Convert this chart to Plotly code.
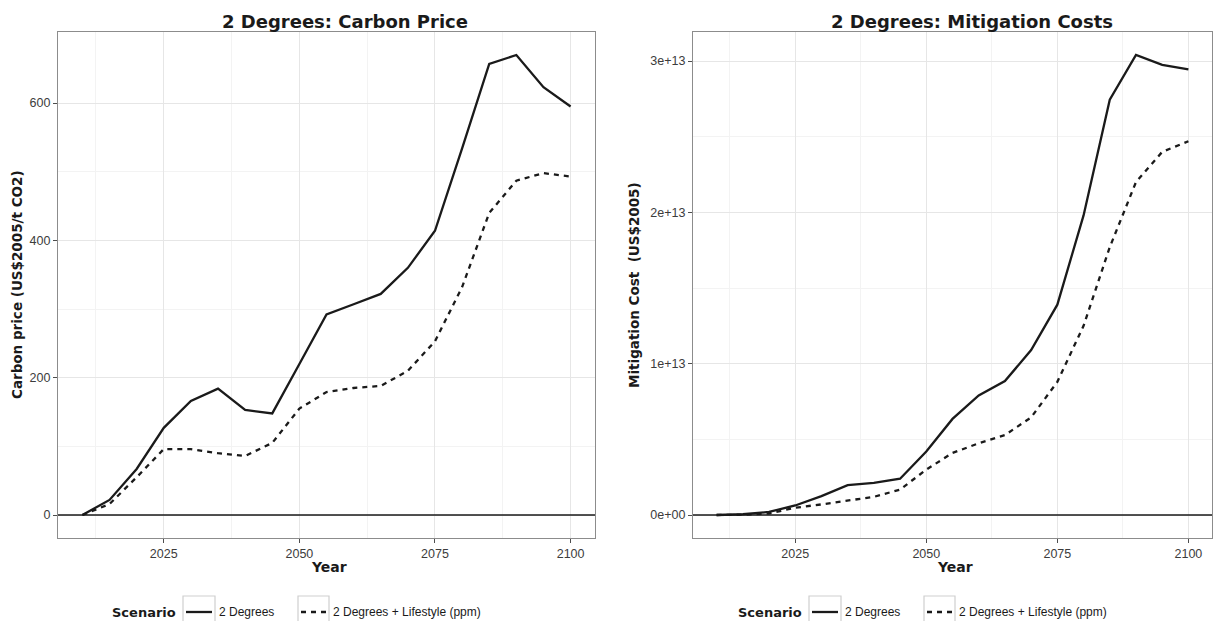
import plotly.graph_objects as go

# ---- data -------------------------------------------------------------
years = [2010, 2015, 2020, 2025, 2030, 2035, 2040, 2045, 2050, 2055,
         2060, 2065, 2070, 2075, 2080, 2085, 2090, 2095, 2100]

scenarios = ["2 Degrees", "2 Degrees + Lifestyle (ppm)"]

# carbon price, US$2005 per t CO2
price_2deg = [0, 22, 67, 127, 166, 184, 153, 148, 220, 292,
              307, 322, 360, 414, 534, 657, 670, 623, 595]
price_life = [0, 16, 55, 96, 96, 90, 86, 105, 155, 179,
              185, 188, 210, 253, 332, 440, 487, 498, 493]

# mitigation cost, US$2005
cost_2deg = [0.0, 0.005e13, 0.02e13, 0.063e13, 0.125e13, 0.197e13, 0.212e13,
             0.24e13, 0.42e13, 0.635e13, 0.79e13, 0.885e13, 1.09e13, 1.39e13,
             1.98e13, 2.745e13, 3.04e13, 2.975e13, 2.945e13]
cost_life = [0.0, 0.002e13, 0.01e13, 0.048e13, 0.07e13, 0.096e13, 0.12e13,
             0.168e13, 0.30e13, 0.41e13, 0.474e13, 0.528e13, 0.645e13,
             0.88e13, 1.25e13, 1.77e13, 2.20e13, 2.40e13, 2.47e13]

cost_ticks = [0, 1e13, 2e13, 3e13]
cost_tick_text = ["0e+00", "1e+13", "2e+13", "3e+13"]
price_ticks = [0, 200, 400, 600]
year_ticks = [2025, 2050, 2075, 2100]

# ---- styling ----------------------------------------------------------
W, H = 1219, 621
INK = "#1a1a1a"
TICK_TXT = "#3c3c3c"
BOLD_FONT = "DejaVu Sans"
TXT_FONT = "Liberation Sans"
dashes = ["solid", "5px,5px"]


def px_x(p):
    return p / W


def px_y(p):
    return 1 - p / H


fig = go.Figure()

panels = [("x", "y", [price_2deg, price_life]),
          ("x2", "y2", [cost_2deg, cost_life])]
for xa, ya, series in panels:
    for name, vals, dash in zip(scenarios, series, dashes):
        fig.add_trace(go.Scatter(
            x=years, y=vals, name=name, mode="lines",
            line=dict(color=INK, width=2.3, dash=dash),
            xaxis=xa, yaxis=ya, showlegend=False, hoverinfo="skip",
        ))

axis_common = dict(
    showline=True, mirror=True, linecolor="#8c8c8c", linewidth=1.2,
    ticks="outside", ticklen=4, tickcolor="#4d4d4d", tickwidth=1,
    showgrid=True, gridcolor="#e6e6e6", gridwidth=1,
    zeroline=False,
    tickfont=dict(family=TXT_FONT, size=12.5, color=TICK_TXT),
)

x_dom_1 = [px_x(58), px_x(595)]
x_dom_2 = [px_x(693), px_x(1212)]
y_dom = [px_y(538), px_y(32)]

xaxis_kw = dict(axis_common, range=[2005.5, 2104.5], tickmode="array",
                tickvals=year_ticks,
                minor=dict(showgrid=True, gridcolor="#f3f3f3",
                           tickvals=[2012.5, 2037.5, 2062.5, 2087.5],
                           ticks=""))

fig.update_layout(
    width=W, height=H,
    margin=dict(l=0, r=0, t=0, b=0),
    paper_bgcolor="white", plot_bgcolor="white",
    xaxis=dict(xaxis_kw, domain=x_dom_1, anchor="y"),
    xaxis2=dict(xaxis_kw, domain=x_dom_2, anchor="y2"),
    yaxis=dict(axis_common, domain=y_dom, anchor="x",
               range=[-33.5, 703.5], tickmode="array", tickvals=price_ticks,
               minor=dict(showgrid=True, gridcolor="#f3f3f3",
                          tickvals=[100, 300, 500], ticks="")),
    yaxis2=dict(axis_common, domain=y_dom, anchor="x2",
                range=[-0.152e13, 3.192e13], tickmode="array",
                tickvals=cost_ticks, ticktext=cost_tick_text,
                minor=dict(showgrid=True, gridcolor="#f3f3f3",
                           tickvals=[0.5e13, 1.5e13, 2.5e13], ticks="")),
    showlegend=False,
)

# horizontal reference line at zero in both panels
for xa, ya in [("x", "y"), ("x2", "y2")]:
    fig.add_shape(type="line", xref=f"{xa} domain", yref=ya,
                  x0=0, x1=1, y0=0, y1=0,
                  line=dict(color=INK, width=1.3), layer="above")


def add_text(text, x, y, size, family, angle=0, anchor="center"):
    fig.add_annotation(
        text=text, x=px_x(x), y=px_y(y), xref="paper", yref="paper",
        xanchor=anchor, yanchor="middle", showarrow=False,
        textangle=angle, borderpad=0,
        font=dict(family=family, size=size, color=INK),
    )


# titles
add_text("<b>2 Degrees: Carbon Price</b>", 345, 21, 18, BOLD_FONT)
add_text("<b>2 Degrees: Mitigation Costs</b>", 972, 21, 18, BOLD_FONT)
add_text("<b>Year</b>", 329, 567, 14, BOLD_FONT)
add_text("<b>Year</b>", 955, 567, 14, BOLD_FONT)
add_text("<b>Carbon price (US$2005/t CO2)</b>", 17, 285, 13.5, BOLD_FONT,
         angle=-90)
add_text("<b>Mitigation Cost\u00a0 (US$2005)</b>", 634, 285, 13.5, BOLD_FONT,
         angle=-90)

# legend below each panel: title, framed keys, labels
LEG_Y = 612
for off in (0, 626):
    add_text("<b>Scenario</b>", 111 + off, LEG_Y, 13, BOLD_FONT,
             anchor="left")
    keys = [(183 + off, 215 + off), (298 + off, 329 + off)]
    for (left, right), name, dash in zip(keys, scenarios, dashes):
        fig.add_shape(type="rect", xref="paper", yref="paper",
                      x0=px_x(left), x1=px_x(right),
                      y0=px_y(630), y1=px_y(596),
                      line=dict(color="#cfcfcf", width=1.2),
                      fillcolor="rgba(0,0,0,0)")
        fig.add_shape(type="line", xref="paper", yref="paper",
                      x0=px_x(left + 3), x1=px_x(right - 3),
                      y0=px_y(LEG_Y), y1=px_y(LEG_Y),
                      line=dict(color=INK, width=2.3, dash=dash))
        add_text(name, right + 3, LEG_Y, 12, TXT_FONT, anchor="left")

fig.write_html("out.html")
